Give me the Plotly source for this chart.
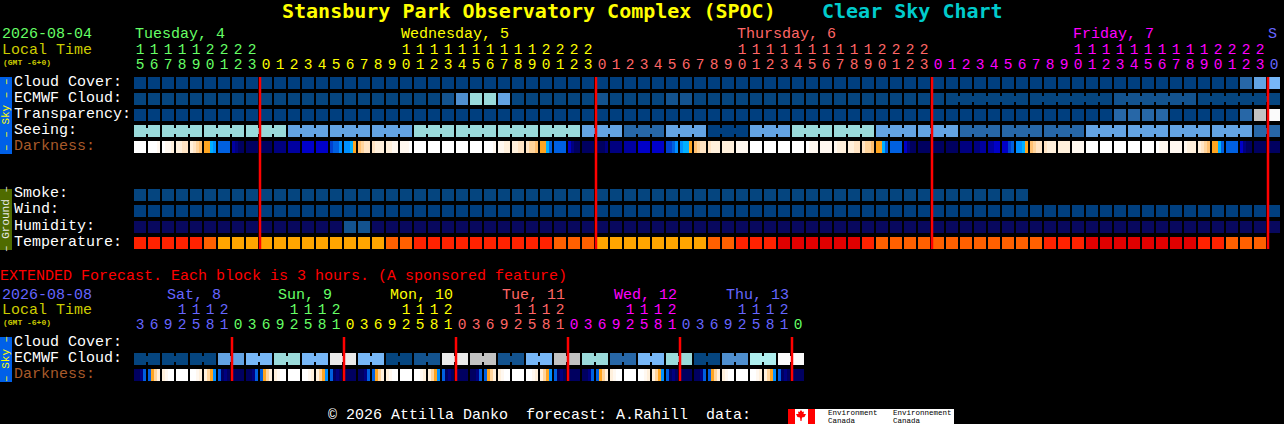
import plotly.graph_objects as go

W, H = 1284, 424

# ---------- data ----------
cloud_levels = ["#003F7F", "#13538F", "#2767A7", "#4F8FCF", "#63A3E3", "#77B7F7",
                "#9ADADA", "#AEEEEE", "#C2C2C2", "#EAEAEA", "#FBFBFB"]
speckled_levels = ["#05457F"] + cloud_levels[1:]
humidity_levels = ["#08085E", "#13538F"]
temperature_levels = ["#E00000", "#FF2200", "#FF6000", "#FFA500"]

cloud_cover = [0]*79 + [2, 4, 5]
ecmwf_cloud = [0]*22 + [1, 3, 6, 6, 4] + [0]*6 + [1] + [0]*4 + [1, 1] + [0]*30 + [1]*6 + [0]*6
transparency = [0]*70 + [2, 2, 2, 2] + [0]*5 + [2, 8, 10]
seeing = ([6]*11 + [4]*9 + [6]*12 + [4]*3 + [2]*3 + [4]*3 + [0]*3 + [4]*3 + [6]*6
          + [4]*6 + [2]*9 + [4]*12 + [2]*2)
smoke = [0]*64
wind = [0]*82
humidity = [0]*15 + [1, 1] + [0]*65
temperature = ([1]*5 + [2] + [3]*12 + [2, 2] + [1]*10 + [2]*3 + [3]*8 + [2, 2] + [1]*3
               + [0]*6 + [1] + [2]*12 + [1]*3 + [0]*8 + [1, 1] + [2]*3)

# groups of joined blocks (first column, last column)
seeing_groups = [(0, 1), (2, 4), (5, 7), (8, 10), (11, 13), (14, 16), (17, 19), (20, 22),
                 (23, 25), (26, 28), (29, 31), (32, 34), (35, 37), (38, 40), (41, 43),
                 (44, 46), (47, 49), (50, 52), (53, 55), (56, 58), (59, 61), (62, 64),
                 (65, 67), (68, 70), (71, 73), (74, 76), (77, 79), (80, 81)]
ecmwf_groups = [(58, 63), (64, 69), (70, 75), (76, 81)]

dark_colors = {"W": "#FFFFFF", "a": "#FFF8F0", "b": "#FFF0DC", "c": "#FFE4C4", "d": "#FFD49C",
               "e": "#FFC070", "f": "#FFA520", "g": "#00B0FF", "h": "#0090FF", "i": "#0060E0",
               "j": "#0040D0", "k": "#0000C8", "l": "#0000A0", "m": "#000080", "n": "#000060"}
darkness = ["WWWW", "WWWa", "Waab", "bbcc", "bcde", "ffgh", "iiii", "lmnn", "nnnn", "nnnn",
            "mmmm", "llll", "kkkk", "kkkk", "jiih", "hhgf", "edcc", "cbbb", "bbaa", "aaaW",
            "WWWW", "WWWW", "WWWW", "WWWW", "WWWW", "WWWa", "aabb", "bbcc", "cdde", "ffgi",
            "iiii", "kmnn", "nnnn", "nnnm", "mmmm", "llll", "kkkk", "kkkk", "jjih", "hggf",
            "edcc", "cbbb", "bbbb", "aaaa", "WWWW", "WWWW", "WWWW", "WWWW", "Waaa", "aaaa",
            "abbb", "bbcc", "cdde", "ffgi", "iiii", "kmnn", "nnnn", "nnnn", "nnnn", "mmmm",
            "mmll", "llkk", "kkji", "hhgf", "edcc", "cbbb", "bbbb", "aaaa", "WWWW", "WWWW",
            "WWWW", "WWWW", "WWWW", "Waaa", "aaaa", "abbb", "bcde", "ffgi", "iiii", "kmnn",
            "nnnn", "nnnn"]

ext_ecmwf = [0, 0, 0, 0, 0, 0, 4, 4, 5, 5, 6, 6, 5, 5, 9, 9, 5, 5, 0, 0, 1, 1, 9, 9,
             8, 8, 1, 1, 5, 5, 8, 8, 6, 6, 2, 2, 5, 5, 6, 6, 0, 0, 3, 3, 7, 7, 10, 10]
ext_groups = [(i, i + 1) for i in range(0, 48, 2)]
ext_darkness = ["nnmi", "ifdb", "baWW", "WWWW", "WWab", "bdfh", "inmn", "nnnn"] * 6

midnights = [9, 33, 57, 81]
ext_midnights = [7, 15, 23, 31, 39, 47]

DAY = {"tue": "#66FF66", "wed": "#FFFF00", "thu": "#FF6666", "fri": "#FF00FF", "sat": "#6666FF"}
unit_labels = list("567890123" + "012345678901234567890123" * 3 + "0")
tens_labels = list("111112222" + "          11111111112222" * 3 + " ")
hour_colors = [DAY["tue"]]*9 + [DAY["wed"]]*24 + [DAY["thu"]]*24 + [DAY["fri"]]*24 + [DAY["sat"]]
ext_units = list("3692581" + "03692581" * 5 + "0")
ext_tens = list("   1112" + "    1112" * 5 + " ")
ext_colors = ([DAY["sat"]]*7 + [DAY["tue"]]*8 + [DAY["wed"]]*8 + [DAY["thu"]]*8
              + [DAY["fri"]]*8 + [DAY["sat"]]*8 + [DAY["tue"]])

row_labels = [("Cloud Cover:", 82, "#FFFFFF"), ("ECMWF Cloud:", 98, "#FFFFFF"),
              ("Transparency:", 114, "#FFFFFF"), ("Seeing:", 130, "#FFFFFF"),
              ("Darkness:", 146, "#A85A2A"), ("Smoke:", 194, "#FFFFFF"), ("Wind:", 210, "#FFFFFF"),
              ("Humidity:", 226, "#FFFFFF"), ("Temperature:", 242, "#FFFFFF"),
              ("Cloud Cover:", 342, "#FFFFFF"), ("ECMWF Cloud:", 358, "#FFFFFF"),
              ("Darkness:", 374, "#A85A2A")]
day_labels = [("Tuesday, 4", 135, 35, DAY["tue"]), ("Wednesday, 5", 401, 35, DAY["wed"]),
              ("Thursday, 6", 737, 35, DAY["thu"]), ("Friday, 7", 1073, 35, DAY["fri"]),
              ("S", 1268, 35, DAY["sat"]), ("Sat, 8", 167, 295, DAY["sat"]),
              ("Sun, 9", 278, 295, DAY["tue"]), ("Mon, 10", 390, 295, DAY["wed"]),
              ("Tue, 11", 502, 295, DAY["thu"]), ("Wed, 12", 614, 295, DAY["fri"]),
              ("Thu, 13", 726, 295, DAY["sat"])]

# ---------- geometry helpers ----------
# x axis: one unit per block column, y axis: one unit per 16 px row
xrange_ = [-140 / 14, (W - 140) / 14]
yrange_ = [(H - 83) / 16, -83 / 16]
def colx(px): return (px - 140) / 14
def rowy(py): return (py - 83) / 16

fig = go.Figure()

def stepped(colors):
    n = len(colors)
    scale = []
    for i, c in enumerate(colors):
        scale += [[i / n, c], [(i + 1) / n, c]]
    return scale

def add_row(values, row, colors):
    fig.add_trace(go.Heatmap(z=[values], x=list(range(len(values))), y=[row],
                             colorscale=stepped(colors), zmin=-0.5, zmax=len(colors) - 0.5,
                             xgap=2, ygap=4, showscale=False, hoverinfo="skip"))

def add_links(values, groups, row, colors):
    for a, b in groups:
        fig.add_trace(go.Scatter(x=[a, b], y=[row, row], mode="lines",
                                 line=dict(color=colors[values[a]], width=6),
                                 hoverinfo="skip", showlegend=False))

letters = list(dark_colors)
def add_darkness(blocks, row):
    edges, cells = [], []
    for i, block in enumerate(blocks):
        for j in range(4):
            edges.append(colx(134 + 14 * i + 3 * j))
            cells.append(letters.index(block[j]))
        edges.append(colx(146 + 14 * i))
        cells.append(None)
    edges.append(colx(148 + 14 * (len(blocks) - 1)))
    fig.add_trace(go.Heatmap(z=[cells], x=edges, y=[row - 6 / 16, row + 6 / 16],
                             colorscale=stepped(list(dark_colors.values())),
                             zmin=-0.5, zmax=len(letters) - 0.5, showscale=False,
                             hoverinfo="skip"))

add_links(seeing, seeing_groups, 3, cloud_levels)
add_links(ecmwf_cloud, ecmwf_groups, 1, speckled_levels)
add_links(ext_ecmwf, ext_groups, 17.25, speckled_levels)

add_row(cloud_cover, 0, cloud_levels)
add_row(ecmwf_cloud, 1, speckled_levels)
add_row(transparency, 2, cloud_levels)
add_row(seeing, 3, cloud_levels)
add_darkness(darkness, 4)
add_row(smoke, 7, speckled_levels)
add_row(wind, 8, cloud_levels)
add_row(humidity, 9, humidity_levels)
add_row(temperature, 10, temperature_levels)
add_row(ext_ecmwf, 17.25, speckled_levels)
add_darkness(ext_darkness, 18.25)

# midnight marks
def add_marks(cols, y0, y1):
    xs, ys = [], []
    for c in cols:
        xs += [c - 3 / 7, c - 3 / 7, None]
        ys += [rowy(y0), rowy(y1), None]
    fig.add_trace(go.Scatter(x=xs, y=ys, mode="lines", line=dict(color="#FF0000", width=2.5),
                             hoverinfo="skip", showlegend=False))
add_marks(midnights, 77, 249)
add_marks(ext_midnights, 337, 381)

# hour digits
TITLE = "DejaVu Sans Mono"
MONO = "Liberation Mono"
def add_digits(labels, colors, py):
    fig.add_trace(go.Scatter(x=list(range(len(labels))), y=[rowy(py)] * len(labels), mode="text",
                             text=labels, textposition="middle center",
                             textfont=dict(family=MONO, size=14.5, color=colors),
                             hoverinfo="skip", showlegend=False, cliponaxis=False))
add_digits(tens_labels, hour_colors, 50)
add_digits(unit_labels, hour_colors, 65)
add_digits(ext_tens, ext_colors, 310)
add_digits(ext_units, ext_colors, 325)

# ---------- text ----------
annotations = []
def label(text, px, py, color, size=15, bold=False, angle=0, anchor="left", family=MONO):
    annotations.append(dict(text=f"<b>{text}</b>" if bold else text, x=px / W, y=1 - py / H,
                            xref="paper", yref="paper", xanchor=anchor, yanchor="middle",
                            showarrow=False, textangle=angle, borderpad=0, borderwidth=0,
                            font=dict(family=family, size=size, color=color)))

label("Stansbury Park Observatory Complex (SPOC)", 282, 11, "#FFFF00", 20, True, family=TITLE)
label("Clear Sky Chart", 822, 11, "#00CCCC", 20, True, family=TITLE)
label("2026-08-04", 2, 35, DAY["tue"])
label("Local Time", 2, 50, "#CCCC00")
label("(GMT -6+0)", 3, 62, "#CCCC00", 8, True)
for text, py, color in row_labels:
    label(text, 14, py, color)
for text, px, py, color in day_labels:
    label(text, px, py, color)
label("EXTENDED Forecast. Each block is 3 hours. (A sponsored feature)", 0, 276, "#FF0000")
label("2026-08-08", 2, 295, DAY["sat"])
label("Local Time", 2, 310, "#CCCC00")
label("(GMT -6+0)", 3, 322, "#CCCC00", 8, True)
label("© 2026 Attilla Danko  forecast: A.Rahill  data:", 328, 415, "#FFFFFF")

label("– – Sky – –", 6, 115, "#FFFF00", 11, angle=-90, anchor="center")
label("– Ground –", 6, 219, "#E8E8E8", 11, angle=-90, anchor="center")
label("– Sky –", 6, 359, "#FFFF00", 11, angle=-90, anchor="center")

label("Environment", 828, 412.5, "#000000", 7.5)
label("Canada", 828, 420.5, "#000000", 7.5)
label("Environnement", 893, 412.5, "#000000", 7.5)
label("Canada", 893, 420.5, "#000000", 7.5)

# ---------- side bars and logo ----------
def rect(x0, y0, x1, y1, color):
    return dict(type="rect", xref="paper", yref="paper", x0=x0 / W, x1=x1 / W,
                y0=1 - y0 / H, y1=1 - y1 / H, fillcolor=color, line_width=0, layer="below")

leaf_pts = [(801, 410), (802.5, 412), (804, 411.5), (803.5, 414), (806, 414), (804.5, 417),
            (802, 417.5), (801.5, 421), (800.5, 421), (800, 417.5), (797.5, 417), (796, 414),
            (798.5, 414), (798, 411.5), (799.5, 412)]
leaf_path = "M " + " L ".join(f"{x / W:.5f},{1 - y / H:.5f}" for x, y in leaf_pts) + " Z"

shapes = [rect(0, 77, 12, 154, "#0060E8"), rect(0, 189, 12, 250, "#4F6B00"),
          rect(0, 337, 12, 382, "#0060E8"), rect(788, 409, 954, 424, "#FFFFFF"),
          rect(788, 409, 795, 424, "#FF0000"), rect(808, 409, 815, 424, "#FF0000"),
          dict(type="path", xref="paper", yref="paper", path=leaf_path,
               fillcolor="#FF0000", line_width=0, layer="above")]

fig.update_layout(
    width=W, height=H, margin=dict(l=0, r=0, t=0, b=0, pad=0),
    paper_bgcolor="#000000", plot_bgcolor="#000000", showlegend=False,
    hovermode=False, dragmode=False,
    xaxis=dict(range=xrange_, visible=False, fixedrange=True),
    yaxis=dict(range=yrange_, visible=False, fixedrange=True),
    annotations=annotations, shapes=shapes,
)

fig.write_html("out.html", config={"displayModeBar": False},
               post_script="document.body.style.margin='0';document.body.style.overflow='hidden';")
